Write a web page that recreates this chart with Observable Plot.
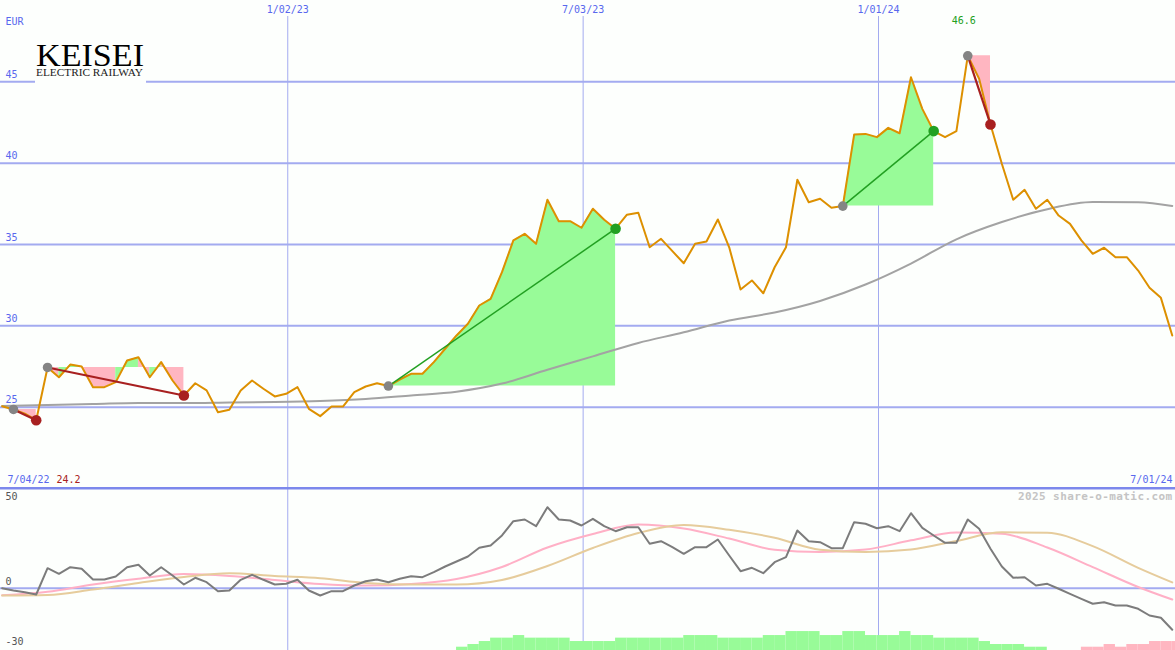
<!DOCTYPE html>
<html><head><meta charset="utf-8">
<script src="https://cdn.jsdelivr.net/npm/d3@7"></script>
<script src="https://cdn.jsdelivr.net/npm/@observablehq/plot@0.6"></script>
<style>
body{margin:0;background:#fdfffd;}
#chart{position:relative;width:1175px;height:650px;overflow:hidden;}
#chart svg{display:block;}
</style></head><body><div id="chart"></div>
<script>
// ---- data (weekly closes, EUR) ----
const price = [25.06, 24.86, 24.6, 24.2, 27.44, 26.84, 27.62, 27.5, 26.23, 26.23,
 26.54, 27.87, 28.07, 26.84, 27.77, 26.64, 25.72, 26.47, 26.03, 24.69,
 24.84, 26.03, 26.64, 26.13, 25.66, 25.82, 26.23, 24.9, 24.45, 25.04,
 25.04, 25.92, 26.27, 26.47, 26.3, 26.7, 27.05, 27.05, 27.77, 28.59,
 29.41, 30.13, 31.25, 31.66, 33.3, 35.25, 35.66, 35.04, 37.75, 36.43,
 36.43, 36.03, 37.2, 36.52, 35.97, 36.83, 36.95, 34.83, 35.35, 34.59,
 33.85, 35.04, 35.18, 36.54, 34.83, 32.23, 32.79, 32.0, 33.6, 34.83,
 38.98, 37.6, 37.81, 37.26, 37.36, 41.76, 41.8, 41.6, 42.17, 41.84,
 45.28, 43.34, 41.97, 41.6, 41.97, 46.6, 45.19, 42.38, 39.96, 37.75,
 38.36, 37.2, 37.75, 36.78, 36.27, 35.25, 34.43, 34.8, 34.22, 34.22,
 33.4, 32.34, 31.72, 29.41];
// moving average, sampled at these week indices
const smoothIdx = [0,4,8,12,16,20,24,28,32,36,40,44,48,52,56,60,64,68,72,76,80,84,88,92,96,100,103];
const maValues = [25.07,25.13,25.19,25.26,25.26,25.29,25.32,25.38,25.5,25.72,25.95,26.45,27.3,28.12,28.95,29.6,30.33,30.82,31.53,32.54,33.83,35.32,36.38,37.17,37.61,37.6,37.37];
// oscillator panel
const osc = [0.0, -1.15, -2.0, -3.16, 10.03, 7.22, 10.53, 9.73, 4.36, 4.36,
 5.87, 10.53, 11.74, 6.37, 10.53, 6.37, 1.85, 5.21, 3.01, -1.5,
 -1.15, 4.21, 6.72, 4.21, 1.85, 2.2, 4.21, -1.15, -3.66, -1.5,
 -1.5, 1.35, 3.51, 4.36, 3.01, 4.71, 6.02, 5.52, 8.02, 10.88,
 13.39, 15.9, 20.26, 21.41, 26.43, 33.6, 34.45, 31.09, 40.62, 34.45,
 33.95, 31.44, 34.8, 31.09, 28.59, 30.59, 30.59, 22.27, 23.57, 20.56,
 17.25, 20.56, 20.56, 24.42, 16.4, 8.53, 10.23, 7.52, 13.04, 15.55,
 28.94, 23.57, 23.07, 20.06, 20.06, 33.1, 32.3, 30.09, 31.09, 28.59,
 37.61, 30.29, 26.43, 22.77, 22.77, 34.45, 29.79, 19.76, 10.88, 5.21,
 5.52, 1.35, 2.2, -0.3, -2.81, -5.32, -7.82, -7.02, -8.68, -8.68,
 -10.33, -13.69, -14.84, -20.86];
const pinkValues = [-3.6,-1.8,1.85,4.71,7.1,6.12,4.11,2.11,1.35,2.11,4.61,10.63,20.4,27.18,31.95,29.9,24.9,19.3,18.2,19.4,24.0,27.9,27.3,20.4,10.6,0.6,-5.7];
const tanValues = [-3.66,-3.41,-0.65,2.61,5.6,7.5,6.1,5.0,2.61,1.85,1.85,4.11,11.13,20.16,27.68,31.7,29.3,25.3,19.3,18.2,19.4,23.7,28.0,27.8,21.1,10.2,2.9];
const hist = [0,0,0,0,0,0,0,0,0,0, 0,0,0,0,0,0,0,0,0,0,
 0,0,0,0,0,0,0,0,0,0, 0,0,0,0,0,0,0,0,0,0,
 1.65,3.0,4.5,6.2,6.2,7.5,6.2,6.2,6.2,6.2,
 4.5,4.5,4.5,4.5,6.2,6.2,6.2,6.2,6.2,6.2,
 7.5,7.5,7.5,6.2,6.2,6.2,6.2,7.5,7.5,9.5,
 9.5,9.5,7.5,7.5,9.5,9.5,7.5,7.5,7.5,9.5,
 7.5,7.5,6.2,6.2,6.2,6.2,4.5,3.0,3.0,3.0,
 1.65,1.65,0,0,0,-1.65,-1.65,-3.0,-1.65,-3.0,
 -3.0,-4.5,-4.5,-4.5];
// signals (week indices)
const sigStart = [1, 4, 34, 74, 85];
const sigEnd = [3, 16, 54, 82, 87];
// axes
const priceTicks = [25, 30, 35, 40, 45];
const gridDates = ["2023-01-02", "2023-07-03", "2024-01-01"].map(d => new Date(d));
const gridLabels = ["1/02/23", "7/03/23", "1/01/24"];
const oscTicks = [50, 0, -30];
const rangeLabels = ["7/04/22", "7/01/24"];
const minLabel = "24.2", maxLabel = "46.6";

// ---- styles ----
const BG = "#fdfffd", GRID = "#a3abf0", SEP = "#7c88ec", BLUE = "#5868ee";
const ORANGE = "#dd9000", GREENF = "#98fb98", PINKF = "#ffb6c1";
const RED = "#a82020", GREEN = "#22a022";

const start = new Date(Date.UTC(2022, 6, 10));
const dates = price.map((_, i) => d3.utcDay.offset(start, 7 * i));
const xDomain = [new Date(Date.UTC(2022, 6, 9)), new Date(Date.UTC(2024, 6, 2))];

const priceTable = price.map((p, i) => ({date: dates[i], p}));
const maTable = smoothIdx.map((k, j) => ({date: dates[k], v: maValues[j]}));
const oscTable = osc.map((v, i) => ({date: dates[i], v}));
const pinkTable = smoothIdx.map((k, j) => ({date: dates[k], v: pinkValues[j]}));
const tanTable = smoothIdx.map((k, j) => ({date: dates[k], v: tanValues[j]}));

// fill between the signal's entry level and the price, in runs of one colour
const segs = [];
const links = [];
sigStart.forEach((s, j) => {
  const e = sigEnd[j], level = price[s];
  let run = -1, prevC = null;
  for (let k = s; k < e; k++) {
    const c = price[k + 1] > level ? GREENF : PINKF;
    if (c !== prevC) {
      run++;
      prevC = c;
      segs.push({seg: j + "-" + run, date: dates[k], level, p: price[k], c});
    }
    segs.push({seg: j + "-" + run, date: dates[k + 1], level, p: price[k + 1], c});
  }
  const up = price[e] > level;
  links.push({d1: dates[s], p1: level, d2: dates[e], p2: price[e], c: up ? GREEN : RED, w: up ? 1.5 : 2.2});
});

const yBottom = -31.25;
const bars = hist.map((h, i) => ({d1: dates[i], d2: d3.utcDay.offset(dates[i], 7), h, c: h > 0 ? GREENF : PINKF})).filter(b => b.h !== 0);

const font = {background: "transparent", fontFamily: "DejaVu Sans Mono", fontSize: "10px", overflow: "hidden"};

const topPlot = Plot.plot({
  width: 1175, height: 488, margin: 0,
  x: {type: "utc", domain: xDomain, axis: null},
  y: {domain: [20, 50], axis: null},
  color: {type: "identity"},
  style: font,
  marks: [
    Plot.ruleY(priceTicks, {stroke: GRID, strokeWidth: 2}),
    Plot.ruleX(gridDates, {stroke: GRID, strokeWidth: 1, insetTop: 16}),
    Plot.ruleY([20], {stroke: SEP, strokeWidth: 3}),
    Plot.areaY(segs, {x: "date", y1: "level", y2: "p", z: "seg", fill: "c"}),
    Plot.line(maTable, {x: "date", y: "v", stroke: "#a3a3a3", strokeWidth: 2, curve: "monotone-x"}),
    Plot.line(priceTable, {x: "date", y: "p", stroke: ORANGE, strokeWidth: 2}),
    Plot.link(links, {x1: "d1", y1: "p1", x2: "d2", y2: "p2", stroke: "c", strokeWidth: "w"}),
    Plot.dot(links, {x: "d1", y: "p1", r: 4.8, fill: "#848484"}),
    Plot.dot(links, {x: "d2", y: "p2", r: 5.3, fill: "c"}),
    Plot.text(priceTicks, {y: d => d, text: d => String(d), frameAnchor: "left", dx: 5, dy: -7, textAnchor: "start", fill: BLUE}),
    Plot.text(["EUR"], {text: d => d, frameAnchor: "top-left", lineAnchor: "middle", dx: 5, dy: 21, textAnchor: "start", fill: BLUE}),
    Plot.text(gridDates, {x: d => d, text: (d, i) => gridLabels[i], frameAnchor: "top", lineAnchor: "middle", dy: 9.5, fill: BLUE}),
    Plot.text([maxLabel], {x: () => dates[85], text: d => d, frameAnchor: "top", lineAnchor: "middle", dy: 20, dx: -4, fill: GREEN}),
    Plot.text([rangeLabels[0]], {text: d => d, frameAnchor: "bottom-left", lineAnchor: "middle", dx: 7, dy: -9, textAnchor: "start", fill: BLUE}),
    Plot.text([minLabel], {text: d => d, frameAnchor: "bottom-left", lineAnchor: "middle", dx: 56, dy: -9, textAnchor: "start", fill: RED}),
    Plot.text([rangeLabels[1]], {text: d => d, frameAnchor: "bottom-right", lineAnchor: "middle", dx: -3, dy: -9, textAnchor: "end", fill: BLUE})
  ]
});

const botPlot = Plot.plot({
  width: 1175, height: 162, margin: 0,
  x: {type: "utc", domain: xDomain, axis: null},
  y: {domain: [yBottom, 50], axis: null},
  color: {type: "identity"},
  style: font,
  marks: [
    Plot.ruleX(gridDates, {stroke: GRID, strokeWidth: 1}),
    Plot.ruleY([0], {stroke: GRID, strokeWidth: 2}),
    Plot.ruleY([50], {stroke: SEP, strokeWidth: 2}),
    Plot.rectY(bars, {x1: "d1", x2: "d2", y1: yBottom, y2: d => yBottom + Math.abs(d.h), fill: "c"}),
    Plot.line(pinkTable, {x: "date", y: "v", stroke: "#ffb0c6", strokeWidth: 2, curve: "monotone-x"}),
    Plot.line(tanTable, {x: "date", y: "v", stroke: "#e6cc9c", strokeWidth: 2, curve: "monotone-x"}),
    Plot.line(oscTable, {x: "date", y: "v", stroke: "#7c7c7c", strokeWidth: 2}),
    Plot.text(oscTicks.slice(0, 1), {text: d => String(d), frameAnchor: "top-left", lineAnchor: "middle", dx: 5, dy: 8, textAnchor: "start", fill: "#555"}),
    Plot.text(oscTicks.slice(1), {y: d => d, text: d => String(d), frameAnchor: "left", dx: 5, dy: -6, textAnchor: "start", fill: "#555"}),
    Plot.text(["2025 share-o-matic.com"], {text: d => d, frameAnchor: "top-right", lineAnchor: "middle", dx: -3, dy: 8, textAnchor: "end", fill: "#c4c4c4", fontWeight: "bold", fontSize: 11})
  ]
});

const chart = document.getElementById("chart");
chart.append(topPlot, botPlot);

// letter spacing for watermark
d3.select(botPlot).selectAll("text").filter(function () { return this.textContent === "2025 share-o-matic.com"; })
  .attr("letter-spacing", "0.4px");

// company logo
const logo = d3.select(topPlot).append("g").attr("text-anchor", "start");
logo.append("rect").attr("x", 35).attr("y", 40).attr("width", 111).attr("height", 44).attr("fill", BG);
logo.append("text").attr("x", 36).attr("y", 66).attr("textLength", 108).attr("lengthAdjust", "spacingAndGlyphs")
  .attr("font-family", "Liberation Serif").attr("font-size", 31).attr("fill", "#000").text("KEISEI");
logo.append("text").attr("x", 36).attr("y", 76.3).attr("textLength", 107).attr("lengthAdjust", "spacingAndGlyphs")
  .attr("font-family", "Liberation Serif").attr("font-size", 10).attr("fill", "#222").text("ELECTRIC RAILWAY");
</script></body></html>
